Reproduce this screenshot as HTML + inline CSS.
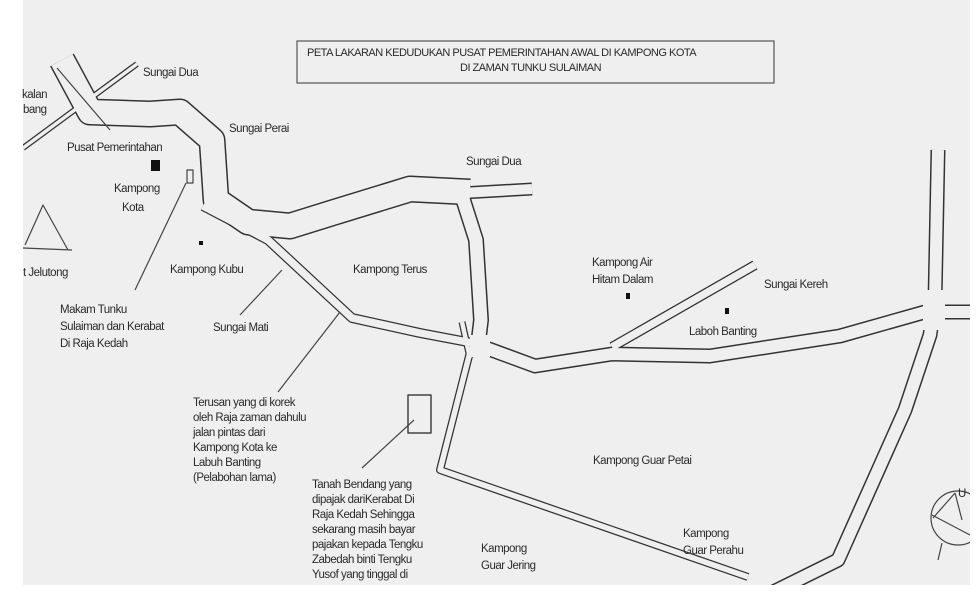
<!DOCTYPE html>
<html><head><meta charset="utf-8"><style>
html,body{margin:0;padding:0;background:#fff;}
svg{display:block;}
text{font-family:"Liberation Sans",Arial,sans-serif;font-size:11.5px;fill:#2a2a2a;letter-spacing:-0.5px;}
</style></head><body>
<svg width="980" height="614" viewBox="0 0 980 614" xmlns="http://www.w3.org/2000/svg">
<defs><clipPath id="m"><rect x="23" y="0" width="947" height="585"/></clipPath></defs>
<rect x="23" y="0" width="947" height="585" fill="#efefef"/>
<g fill="none" stroke-linejoin="round" stroke-linecap="butt" clip-path="url(#m)">
<g stroke="#333">
<path d="M62,60 L90,112 L150,114 L180,112 L212,140 L216,200 L248,222 L290,226 L335,212 L410,189 L470,192" stroke-width="27"/>
<path d="M462,193 L532,189" stroke-width="13"/>
<path d="M462,196 L476,240 L481,320 L478,345" stroke-width="16"/>
<path d="M203,206 L268,240 L352,318 L420,333 L478,344" stroke-width="10"/>
<path d="M478,345 L535,366 L612,354 L710,356 L840,336 L925,312" stroke-width="15"/>
<path d="M612,347 L755,265" stroke-width="10"/>
<path d="M938,150 L935,300 L930,335 L905,410 L838,560 L745,606" stroke-width="15"/>
<path d="M935,312 L972,312" stroke-width="15"/>
<path d="M470,352 L440,470 L748,577" stroke-width="8"/>
<path d="M462,322 L470,358" stroke-width="7"/>
<path d="M137,64 L23,148" stroke-width="6"/>
</g>
<g stroke="#efefef">
<path d="M62,60 L90,112 L150,114 L180,112 L212,140 L216,200 L248,222 L290,226 L335,212 L410,189 L470,192" stroke-width="24"/>
<path d="M462,193 L532,189" stroke-width="10"/>
<path d="M462,196 L476,240 L481,320 L478,345" stroke-width="13"/>
<path d="M203,206 L268,240 L352,318 L420,333 L478,344" stroke-width="7.5"/>
<path d="M478,345 L535,366 L612,354 L710,356 L840,336 L925,312" stroke-width="12"/>
<path d="M612,347 L755,265" stroke-width="7.5"/>
<path d="M938,150 L935,300 L930,335 L905,410 L838,560 L745,606" stroke-width="12"/>
<path d="M935,312 L972,312" stroke-width="12"/>
<path d="M470,352 L440,470 L748,577" stroke-width="5.5"/>
<path d="M462,322 L470,358" stroke-width="4.5"/>
<path d="M137,64 L23,148" stroke-width="3.5"/>
</g>
<rect x="923" y="290" width="22" height="40" fill="#efefef" stroke="none"/>
<rect x="470" y="335" width="20" height="22" fill="#efefef" stroke="none"/>
<g stroke="#444" stroke-width="1.2">
<line x1="57" y1="68" x2="110" y2="130"/>
<path d="M25,245 L43,205 L68,250 M23,248 L72,250"/>
<line x1="186" y1="183" x2="135" y2="290"/>
<line x1="282" y1="270" x2="240" y2="315"/>
<line x1="340" y1="312" x2="278" y2="392"/>
<line x1="414" y1="420" x2="362" y2="468"/>
<rect x="408" y="395" width="23" height="38" stroke-width="1.5"/>
<rect x="187" y="170" width="6" height="13"/>
<circle cx="958" cy="518" r="27"/>
<path d="M932,515 L970,535 M933,518 L955,493 M955,493 L962,520 M942,543 L938,560"/>
</g>
</g>
<rect x="297" y="41" width="477" height="42" fill="none" stroke="#555" stroke-width="1.2"/>
<rect x="151" y="160" width="9" height="11" fill="#111"/>
<rect x="199" y="241" width="4" height="4" fill="#111"/>
<rect x="626" y="293" width="4" height="6" fill="#111"/>
<rect x="725" y="308" width="4" height="6" fill="#111"/>
<text x="307" y="56" style="font-size:11px">PETA LAKARAN KEDUDUKAN PUSAT PEMERINTAHAN AWAL DI KAMPONG KOTA</text>
<text x="460" y="71" style="font-size:11px">DI ZAMAN TUNKU SULAIMAN</text>
<text x="143" y="76">Sungai Dua</text>
<text x="22" y="98">kalan</text>
<text x="23" y="113">bang</text>
<text x="229" y="132">Sungai Perai</text>
<text x="67" y="151">Pusat Pemerintahan</text>
<text x="114" y="192">Kampong</text>
<text x="122" y="211">Kota</text>
<text x="466" y="165">Sungai Dua</text>
<text x="170" y="273">Kampong Kubu</text>
<text x="353" y="273">Kampong Terus</text>
<text x="23" y="276">t Jelutong</text>
<text x="60" y="313">Makam Tunku</text>
<text x="60" y="330">Sulaiman dan Kerabat</text>
<text x="60" y="347">Di Raja Kedah</text>
<text x="213" y="331">Sungai Mati</text>
<text x="592" y="266">Kampong Air</text>
<text x="592" y="283">Hitam Dalam</text>
<text x="764" y="288">Sungai Kereh</text>
<text x="689" y="335">Laboh Banting</text>
<text x="193" y="406">Terusan yang di korek</text>
<text x="193" y="421">oleh Raja zaman dahulu</text>
<text x="193" y="436">jalan pintas dari</text>
<text x="193" y="451">Kampong Kota ke</text>
<text x="193" y="466">Labuh Banting</text>
<text x="193" y="481">(Pelabohan lama)</text>
<text x="312" y="488">Tanah Bendang yang</text>
<text x="312" y="503">dipajak dariKerabat Di</text>
<text x="312" y="518">Raja Kedah Sehingga</text>
<text x="312" y="533">sekarang masih bayar</text>
<text x="312" y="548">pajakan kepada Tengku</text>
<text x="312" y="563">Zabedah binti Tengku</text>
<text x="312" y="578">Yusof yang tinggal di</text>
<text x="593" y="464">Kampong Guar Petai</text>
<text x="481" y="552">Kampong</text>
<text x="481" y="569">Guar Jering</text>
<text x="683" y="537">Kampong</text>
<text x="683" y="554">Guar Perahu</text>
<text x="958" y="497">U</text>
</svg>
</body></html>
